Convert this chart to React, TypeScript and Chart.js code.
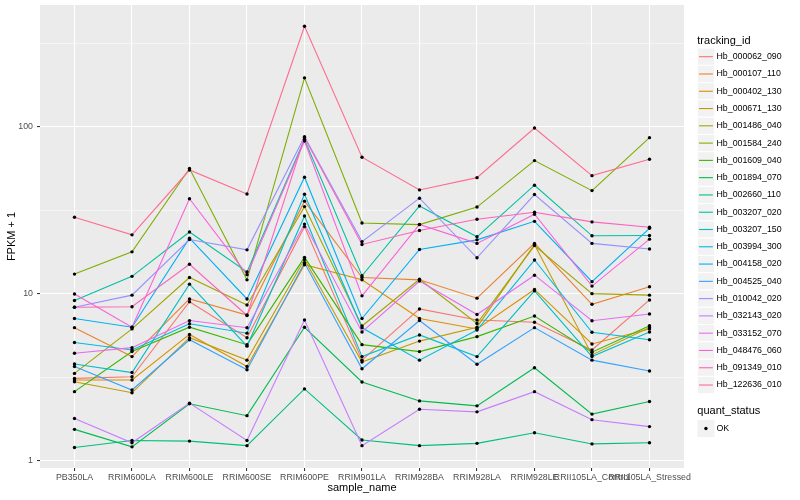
import React, { useEffect, useRef } from "react";
import { Chart, registerables } from "chart.js";

Chart.register(...registerables);

const FONT = "'Liberation Sans', Arial, Helvetica, sans-serif";

const categories = [
  "PB350LA",
  "RRIM600LA",
  "RRIM600LE",
  "RRIM600SE",
  "RRIM600PE",
  "RRIM901LA",
  "RRIM928BA",
  "RRIM928LA",
  "RRIM928LE",
  "RRII105LA_Control",
  "RRII105LA_Stressed",
];

const trackingIds = [
  "Hb_000062_090",
  "Hb_000107_110",
  "Hb_000402_130",
  "Hb_000671_130",
  "Hb_001486_040",
  "Hb_001584_240",
  "Hb_001609_040",
  "Hb_001894_070",
  "Hb_002660_110",
  "Hb_003207_020",
  "Hb_003207_150",
  "Hb_003994_300",
  "Hb_004158_020",
  "Hb_004525_040",
  "Hb_010042_020",
  "Hb_032143_020",
  "Hb_033152_070",
  "Hb_048476_060",
  "Hb_091349_010",
  "Hb_122636_010",
];

const seriesColors = [
  "#F8766D",
  "#EA8331",
  "#D89000",
  "#C09B00",
  "#A3A500",
  "#7CAE00",
  "#39B600",
  "#00BB4E",
  "#00BF7D",
  "#00C1A3",
  "#00BFC4",
  "#00BAE0",
  "#00B0F6",
  "#35A2FF",
  "#9590FF",
  "#C77CFF",
  "#E76BF3",
  "#FA62DB",
  "#FF62BC",
  "#FF6C91",
];

// FPKM + 1 values, one array per tracking_id, in category order
const hb_000062_090 = [3.11, 3.18, 8.95, 5.45, 25.2, 4.0, 8.1, 6.95, 6.74, 4.6, 9.17];
const hb_000107_110 = [6.26, 4.2, 9.3, 7.45, 35.8, 12.5, 12.1, 9.4, 20.0, 8.64, 11.0];
const hb_000402_130 = [3.04, 3.04, 5.7, 3.66, 14.9, 12.1, 7.1, 6.15, 10.6, 5.0, 6.15];
const hb_000671_130 = [2.97, 2.55, 5.45, 4.0, 16.0, 3.9, 5.2, 6.3, 19.7, 4.3, 6.28];
const hb_001486_040 = [3.33, 6.15, 12.5, 8.55, 33.2, 6.4, 12.2, 6.63, 19.4, 10.0, 9.8];
const hb_001584_240 = [13.1, 17.8, 56.2, 12.1, 196, 26.5, 25.9, 33.0, 62.6, 41.4, 85.9];
const hb_001609_040 = [2.59, 4.5, 6.3, 4.95, 16.5, 4.95, 4.5, 5.53, 7.35, 4.46, 6.43];
const hb_001894_070 = [1.54, 1.21, 2.19, 1.86, 6.29, 2.96, 2.28, 2.13, 3.6, 1.9, 2.26];
const hb_002660_110 = [1.2, 1.32, 1.31, 1.23, 2.69, 1.33, 1.23, 1.27, 1.47, 1.26, 1.28];
const hb_003207_020 = [9.1, 12.7, 23.4, 13.5, 84, 12.8, 33.5, 21.9, 44.6, 22.2, 22.3];
const hb_003207_150 = [3.79, 3.37, 11.4, 4.85, 29.2, 4.2, 5.66, 4.2, 10.4, 4.2, 5.9];
const hb_003994_300 = [5.1, 4.6, 6.6, 5.8, 39.4, 6.25, 4.0, 6.06, 15.9, 5.87, 5.3];
const hb_004158_020 = [7.1, 6.3, 21.5, 9.3, 49.8, 7.1, 18.4, 21.0, 27.1, 11.8, 24.6];
const hb_004525_040 = [3.66, 2.65, 5.3, 3.5, 15.3, 3.55, 6.9, 3.78, 6.26, 4.0, 3.44];
const hb_010042_020 = [8.3, 9.8, 21.1, 18.3, 87, 20.5, 37.3, 16.4, 39.2, 20.0, 18.5];
const hb_032143_020 = [1.79, 1.28, 2.21, 1.32, 6.96, 1.23, 2.03, 1.96, 2.59, 1.76, 1.6];
const hb_033152_070 = [4.4, 4.75, 6.9, 6.25, 26.1, 5.9, 11.9, 7.5, 12.9, 6.89, 7.56];
const hb_048476_060 = [9.95, 6.3, 37.0, 13.0, 82, 9.7, 26.0, 20.0, 29.9, 11.1, 21.2];
const hb_091349_010 = [8.3, 8.35, 15.0, 7.4, 86, 19.7, 23.9, 27.9, 30.7, 26.9, 25.0];
const hb_122636_010 = [28.7, 22.5, 55.0, 39.5, 399, 65.6, 41.8, 49.5, 98.2, 50.9, 63.8];

const seriesValues = [
  hb_000062_090,
  hb_000107_110,
  hb_000402_130,
  hb_000671_130,
  hb_001486_040,
  hb_001584_240,
  hb_001609_040,
  hb_001894_070,
  hb_002660_110,
  hb_003207_020,
  hb_003207_150,
  hb_003994_300,
  hb_004158_020,
  hb_004525_040,
  hb_010042_020,
  hb_032143_020,
  hb_033152_070,
  hb_048476_060,
  hb_091349_010,
  hb_122636_010,
];

const yMajorTicks = [1, 10, 100];
const yMinorTicks = [3.1623, 31.623, 316.23];
const quantStatus = ["OK"];

const panelBackground = {
  id: "panelBackground",
  beforeDraw(chart: any) {
    const { ctx, chartArea } = chart;
    ctx.save();
    ctx.fillStyle = "#EBEBEB";
    ctx.fillRect(chartArea.left, chartArea.top, chartArea.right - chartArea.left, chartArea.bottom - chartArea.top);
    ctx.restore();
  },
};

const ggLegend = {
  id: "ggLegend",
  afterDraw(chart: any) {
    const ctx = chart.ctx;
    const x0 = 697.3;
    const key = 17.28;
    ctx.save();
    ctx.textAlign = "left";
    ctx.textBaseline = "middle";
    ctx.fillStyle = "#000000";
    ctx.font = `11px ${FONT}`;
    ctx.fillText("tracking_id", x0, 40.5);
    trackingIds.forEach((id, i) => {
      const cy = 56.7 + i * key;
      ctx.fillStyle = "#F2F2F2";
      ctx.fillRect(x0, cy - key / 2, key, key);
      ctx.strokeStyle = "#FFFFFF";
      ctx.lineWidth = 1;
      ctx.strokeRect(x0, cy - key / 2, key, key);
      ctx.strokeStyle = seriesColors[i];
      ctx.lineWidth = 1.1;
      ctx.beginPath();
      ctx.moveTo(x0 + 1.7, cy);
      ctx.lineTo(x0 + key - 1.7, cy);
      ctx.stroke();
      ctx.fillStyle = "#000000";
      ctx.font = `8.8px ${FONT}`;
      ctx.fillText(id, 716.5, cy);
    });
    ctx.font = `11px ${FONT}`;
    ctx.fillStyle = "#000000";
    ctx.fillText("quant_status", x0, 411);
    quantStatus.forEach((s, i) => {
      const cy = 428.5 + i * key;
      ctx.fillStyle = "#F2F2F2";
      ctx.fillRect(x0, cy - key / 2, key, key);
      ctx.fillStyle = "#000000";
      ctx.beginPath();
      ctx.arc(x0 + key / 2, cy, 1.7, 0, Math.PI * 2);
      ctx.fill();
      ctx.font = `8.8px ${FONT}`;
      ctx.fillText(s, 716.5, cy);
    });
    ctx.restore();
  },
};

export default function App() {
  const canvasRef = useRef<HTMLCanvasElement | null>(null);

  useEffect(() => {
    if (!canvasRef.current) return;
    const lineSets = seriesValues.map((vals, i) => ({
      label: trackingIds[i],
      data: vals.map((v, j) => ({ x: j, y: v })),
      borderColor: seriesColors[i],
      backgroundColor: seriesColors[i],
      borderWidth: 1.1,
      pointRadius: 0,
      fill: false,
      tension: 0,
      order: 100 - i,
    }));
    const pointSets = seriesValues.map((vals, i) => ({
      label: trackingIds[i] + " OK",
      data: vals.map((v, j) => ({ x: j, y: v })),
      showLine: false,
      pointStyle: "circle",
      pointRadius: 1.7,
      pointBackgroundColor: "#000000",
      pointBorderColor: "#000000",
      pointBorderWidth: 0,
      order: 0,
    }));

    const chart = new Chart(canvasRef.current, {
      type: "line",
      data: { datasets: [...lineSets, ...pointSets] as any },
      options: {
        animation: false,
        responsive: true,
        maintainAspectRatio: false,
        layout: { padding: { top: 5, right: 116, left: 0, bottom: 0 } },
        plugins: {
          legend: { display: false },
          tooltip: { enabled: false },
        },
        scales: {
          x: {
            type: "linear",
            min: -0.6,
            max: 10.6,
            afterBuildTicks: (scale: any) => {
              scale.ticks = categories.map((_, i) => ({ value: i }));
            },
            afterFit: (scale: any) => {
              scale.height = 32;
            },
            ticks: {
              autoSkip: false,
              maxRotation: 0,
              minRotation: 0,
              padding: 1.5,
              color: "#4D4D4D",
              font: { family: FONT, size: 8.8 },
              callback: (v: any) => categories[v] ?? "",
            },
            grid: {
              color: "#FFFFFF",
              lineWidth: 1.07,
              tickColor: "#333333",
              tickLength: 3,
            },
            border: { display: false },
            title: {
              display: true,
              text: "sample_name",
              color: "#000000",
              font: { family: FONT, size: 11 },
              padding: { top: 0, bottom: 5 },
            },
          },
          y: {
            type: "logarithmic",
            min: 0.904,
            max: 535,
            afterBuildTicks: (scale: any) => {
              scale.ticks = [...yMajorTicks, ...yMinorTicks]
                .sort((a, b) => a - b)
                .map((v) => ({ value: v }));
            },
            afterFit: (scale: any) => {
              scale.width = 40;
              scale.paddingTop = 0;
              scale.paddingBottom = 0;
            },
            ticks: {
              padding: 4,
              color: "#4D4D4D",
              font: { family: FONT, size: 8.8 },
              callback: (v: any) => (yMajorTicks.includes(Number(v)) ? String(v) : ""),
            },
            grid: {
              color: "#FFFFFF",
              lineWidth: (ctx: any) =>
                ctx.tick && yMajorTicks.includes(ctx.tick.value) ? 1.07 : 0.53,
              tickColor: (ctx: any) =>
                ctx.tick && yMajorTicks.includes(ctx.tick.value) ? "#333333" : "rgba(0,0,0,0)",
              tickLength: 3,
            },
            border: { display: false },
            title: {
              display: true,
              text: "FPKM + 1",
              color: "#000000",
              font: { family: FONT, size: 11 },
              padding: { top: 5.5, bottom: 0 },
            },
          },
        },
      } as any,
      plugins: [panelBackground, ggLegend],
    });
    return () => chart.destroy();
  }, []);

  return (
    <div style={{ position: "fixed", left: 0, top: 0, width: 800, height: 500, background: "#FFFFFF" }}>
      <canvas ref={canvasRef} />
    </div>
  );
}
